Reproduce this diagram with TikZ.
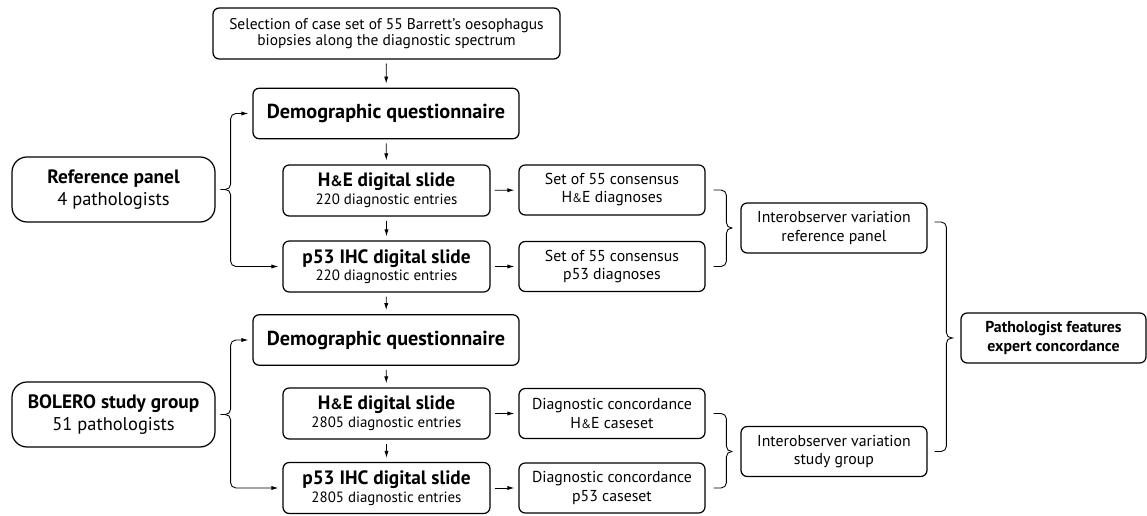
\documentclass[tikz,border=0pt]{standalone}
\usepackage{fontspec}
\usepackage{graphicx}
\setmainfont{PT Sans}
\usetikzlibrary{arrows.meta,calc}

\newcommand{\HE}{H\scalebox{0.78}{\&}E}

\begin{document}
\begin{tikzpicture}[x=0.02cm,y=-0.02cm,
		box/.style={draw,line width=0.7pt,rounded corners=3.5pt,align=center,inner sep=0pt},
		wide/.style={box,minimum width=6.94cm,minimum height=1.02cm,font=\fontsize{8.8}{9.2}\selectfont},
		demo/.style={box,minimum width=5.32cm,minimum height=1.01cm,font=\fontsize{11.5}{12}\selectfont\bfseries},
		slide/.style={box,minimum width=4.14cm,minimum height=1.02cm,font=\fontsize{8.5}{10}\selectfont},
		side/.style={box,minimum width=3.72cm,minimum height=1.0cm,font=\fontsize{9}{10.3}\selectfont},
		group/.style={box,rounded corners=0.3cm,minimum width=4.06cm,minimum height=1.3cm,font=\fontsize{10.5}{12.5}\selectfont},
		arr/.style={-{Latex[length=4pt,width=2.4pt]},line width=0.5pt,shorten <=2.3pt,shorten >=2.3pt},
		bracearr/.style={arr,rounded corners=3pt,shorten <=0pt},
		brace/.style={line width=0.5pt,rounded corners=3pt}]
	\useasboundingbox (0,0) rectangle (1147,516);

	% Auswahl
	\node[wide] (sel) at (386.5,33.5) {Selection of case set of 55 Barrett’s oesophagus\\biopsies along the diagnostic spectrum};

	% Referenzpanel
	\node[group] (refA) at (113.5,189.5) {{\fontsize{11}{13}\selectfont\bfseries Reference panel}\\4 pathologists};
	\node[demo] (demoA) at (386,113.5) {Demographic questionnaire};
	\node[slide] (heA) at (386.5,190.5) {{\fontsize{11}{12}\selectfont\bfseries \HE{} digital slide}\\220 diagnostic entries};
	\node[slide] (pA) at (386.5,266.5) {{\fontsize{11}{12}\selectfont\bfseries p53 IHC digital slide}\\220 diagnostic entries};
	\node[side] (setHE) at (612,190) {Set of 55 consensus\\\HE{} diagnoses};
	\node[side] (setP) at (612,266.5) {Set of 55 consensus\\p53 diagnoses};
	\node[side] (ioRef) at (834,228) {Interobserver variation\\reference panel};

	% Studiengruppe
	\node[group] (bol) at (113.5,414.5) {{\fontsize{11}{13}\selectfont\bfseries BOLERO study group}\\51 pathologists};
	\node[demo] (demoB) at (386,340) {Demographic questionnaire};
	\node[slide] (heB) at (386.5,413.5) {{\fontsize{11}{12}\selectfont\bfseries \HE{} digital slide}\\2805 diagnostic entries};
	\node[slide] (pB) at (386.5,488) {{\fontsize{11}{12}\selectfont\bfseries p53 IHC digital slide}\\2805 diagnostic entries};
	\node[side] (dcHE) at (612,413.5) {Diagnostic concordance\\\HE{} caseset};
	\node[side] (dcP) at (612,488) {Diagnostic concordance\\p53 caseset};
	\node[side] (ioStudy) at (834,451.5) {Interobserver variation\\study group};

	% Ergebnis
	\node[side,font=\fontsize{9}{10.5}\selectfont\bfseries,minimum width=3.7cm] (patho) at (1053.5,338) {Pathologist features\\expert concordance};

	% Pfeile senkrecht
	\draw[arr] (sel) -- (demoA);
	\draw[arr] (demoA) -- (heA);
	\draw[arr] (heA) -- (pA);
	\draw[arr] (pA) -- (demoB);
	\draw[arr] (demoB) -- (heB);
	\draw[arr] (heB) -- (pB);

	% Pfeile waagrecht
	\draw[arr] (heA) -- (setHE);
	\draw[arr] (pA) -- (setP);
	\draw[arr] (heB) -- (dcHE);
	\draw[arr] (pB) -- (dcP);

	% Klammern links
	\draw[bracearr] ($(refA.east)+(5,0)$) -- ++(10,0) |- (demoA.west);
	\draw[bracearr] ($(refA.east)+(5,0)$) -- ++(10,0) |- (pA.west);
	\draw[bracearr] ($(bol.east)+(5,0)$) -- ++(10,0) |- (demoB.west);
	\draw[bracearr] ($(bol.east)+(5,0)$) -- ++(10,0) |- (pB.west);

	% Klammern rechts
	\draw[brace] ($(setHE.east)+(8,0)$) -| ($(ioRef.west)+(-14,0)$) -- ($(ioRef.west)+(-8,0)$);
	\draw[brace] ($(setP.east)+(8,0)$) -| ($(ioRef.west)+(-14,0)$) -- ($(ioRef.west)+(-8,0)$);
	\draw[brace] ($(dcHE.east)+(8,0)$) -| ($(ioStudy.west)+(-14,0)$) -- ($(ioStudy.west)+(-8,0)$);
	\draw[brace] ($(dcP.east)+(8,0)$) -| ($(ioStudy.west)+(-14,0)$) -- ($(ioStudy.west)+(-8,0)$);
	\draw[brace] ($(ioRef.east)+(7,-6)$) -| ($(patho.west)+(-14,0)$) -- ($(patho.west)+(-9,0)$);
	\draw[brace] ($(ioStudy.east)+(7,0)$) -| ($(patho.west)+(-14,0)$) -- ($(patho.west)+(-9,0)$);

\end{tikzpicture}
\end{document}
